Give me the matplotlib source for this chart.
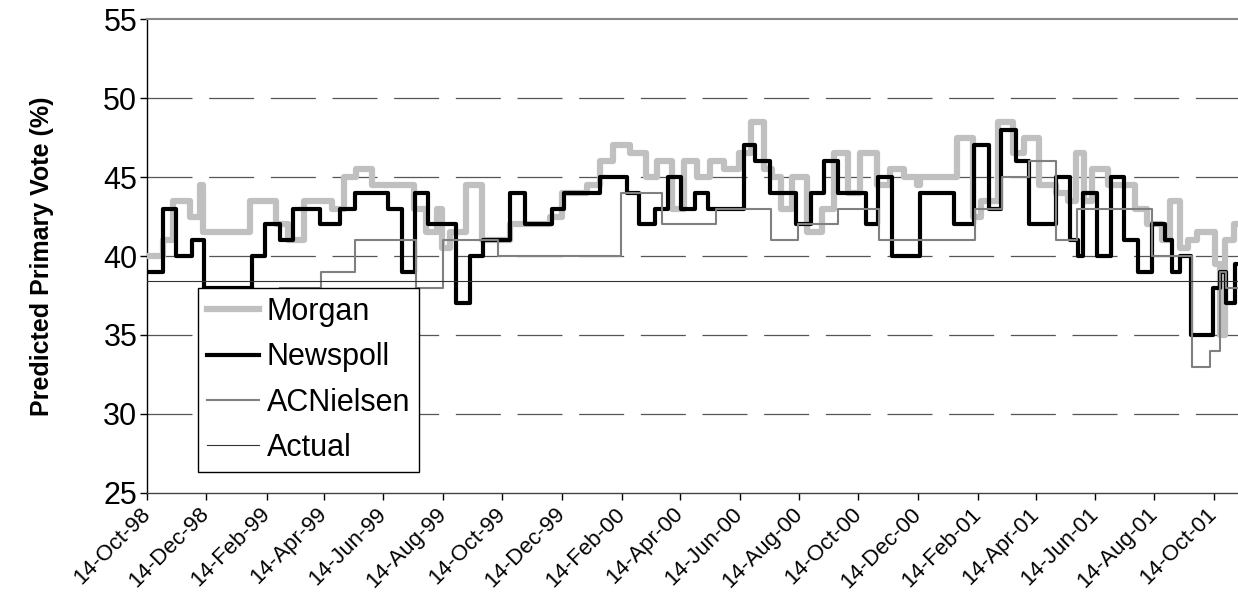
import pandas as pd
import numpy as np
import matplotlib
matplotlib.use("Agg")
import matplotlib.pyplot as plt
import matplotlib.dates as mdates

plt.rcParams["font.family"] = ["Liberation Sans", "DejaVu Sans"]
plt.rcParams["lines.scale_dashes"] = False

# Umfragen als Stufen: Tage seit 14-Oct-98, Wert gilt bis zur naechsten Umfrage
start = pd.Timestamp("1998-10-14")
end_day = 1121

morgan_days = [0, 17, 27, 44, 54, 58, 106, 133, 145, 161,
               190, 202, 215, 231, 274, 287, 298, 303, 311, 328,
               344, 373, 414, 426, 452, 465, 479, 496, 513, 524,
               539, 552, 565, 578, 593, 608, 621, 634, 642, 651,
               663, 678, 694, 706, 720, 733, 750, 763, 778, 791,
               794, 832, 849, 857, 874, 890, 901, 917, 934, 946,
               955, 963, 971, 987, 1015, 1028, 1043, 1051, 1061, 1070,
               1079, 1097, 1102, 1108, 1117]
morgan_vote = [40, 41, 43.5, 42.5, 44.5, 41.5, 43.5, 42, 41, 43.5,
               43, 45, 45.5, 44.5, 43, 41.5, 43, 40.5, 41.5, 44.5,
               41, 42, 42.5, 44, 44.5, 46, 47, 46.5, 45, 46,
               43, 46, 45, 46, 45.5, 46.5, 48.5, 45.5, 45, 43,
               45, 41.5, 43, 46.5, 44, 46.5, 44.5, 45.5, 45, 44.5,
               45, 47.5, 42.5, 43.5, 48.5, 46.5, 47.5, 44.5, 44, 43.5,
               46.5, 43.5, 45.5, 44.5, 43, 42, 41, 43.5, 40.5, 41,
               41.5, 39.5, 35, 41, 42]

newspoll_days = [0, 17, 30, 46, 59, 108, 121, 137, 150, 178,
                 198, 214, 248, 262, 275, 289, 318, 332, 345, 373,
                 388, 416, 429, 465, 493, 506, 522, 535, 549, 563,
                 576, 613, 625, 640, 667, 682, 696, 710, 739, 751,
                 765, 794, 829, 850, 865, 878, 893, 906, 934, 948,
                 957, 962, 976, 991, 1004, 1018, 1033, 1046, 1053, 1061,
                 1073, 1095, 1102, 1109, 1118]
newspoll_vote = [39, 43, 40, 41, 38, 40, 42, 41, 43, 42,
                 43, 44, 43, 39, 44, 42, 37, 40, 41, 44,
                 42, 43, 44, 45, 44, 42, 43, 45, 43, 44,
                 43, 47, 46, 44, 42, 44, 46, 44, 42, 45,
                 40, 44, 42, 47, 43, 48, 46, 42, 45, 41,
                 40, 44, 40, 45, 41, 39, 42, 41, 39, 40,
                 35, 38, 39, 37, 39.5]

acn_days = [137, 179, 214, 276, 304, 361, 487, 529, 585, 641, 669, 710,
            752, 851, 879, 906, 934, 956, 1033, 1074, 1092, 1102, 1109]
acn_vote = [38, 39, 41, 38, 41, 40, 44, 42, 43, 41, 42, 43,
            41, 43, 45, 46, 41, 43, 40, 33, 34, 39, 38]

actual_vote = 38.4


def steps(days, vals):
    d = list(days) + [end_day]
    v = list(vals) + [vals[-1]]
    return start + pd.to_timedelta(d, unit="D"), v


fig = plt.figure(figsize=(12.38, 5.98), dpi=100)
ax = fig.add_axes([0.1187, 0.1756, 0.8813, 0.7926])

x, y = steps(morgan_days, morgan_vote)
ax.step(x, y, where="post", color="#c0c0c0", lw=4.5, label="Morgan", zorder=3)
x, y = steps(newspoll_days, newspoll_vote)
ax.step(x, y, where="post", color="black", lw=3, label="Newspoll", zorder=4)
x, y = steps(acn_days, acn_vote)
ax.step(x, y, where="post", color="#808080", lw=1.5, label="ACNielsen", zorder=5)
ax.plot([start, start + pd.Timedelta(days=end_day)], [actual_vote, actual_vote],
        color="#333333", lw=0.8, label="Actual", zorder=6)

ax.set_xlim(start, start + pd.Timedelta(days=end_day))
ax.set_ylim(25, 55)
ax.set_yticks(range(25, 56, 5))

ticks = pd.date_range("1998-10-01", "2001-10-01", freq="2MS") + pd.Timedelta(days=13)
ax.set_xticks(ticks)
ax.xaxis.set_major_formatter(mdates.DateFormatter("%d-%b-%y"))
for lab in ax.get_xticklabels():
    lab.set_rotation(45)
    lab.set_ha("right")
    lab.set_va("center")
    lab.set_rotation_mode("anchor")
    lab.set_fontsize(16)

ax.tick_params(axis="y", labelsize=22, length=5, width=1, pad=2, direction="out")
ax.tick_params(axis="x", length=5, width=1, pad=8, direction="out")

for v in range(30, 51, 5):
    ax.axhline(v, color="#555555", lw=0.9, linestyle=(0, (32.4, 12)), zorder=1)

ax.spines["right"].set_visible(False)
ax.spines["top"].set_color("#888888")
ax.spines["top"].set_linewidth(1.5)
ax.spines["left"].set_linewidth(1)
ax.spines["bottom"].set_color("#444444")
ax.spines["bottom"].set_linewidth(1)

ax.set_ylabel("Predicted Primary Vote (%)", fontsize=18, fontweight="bold")
ax.yaxis.set_label_coords(-0.0855, 0.5)

leg = ax.legend(loc="upper left", bbox_to_anchor=(0.0467, 0.4325), borderaxespad=0,
                fontsize=22, handlelength=1.7, handletextpad=0.25, labelspacing=0.5,
                borderpad=0.3, fancybox=False, edgecolor="black", framealpha=1)
leg.get_frame().set_linewidth(1)
leg.set_zorder(10)

fig.savefig("out.png", dpi=100)
